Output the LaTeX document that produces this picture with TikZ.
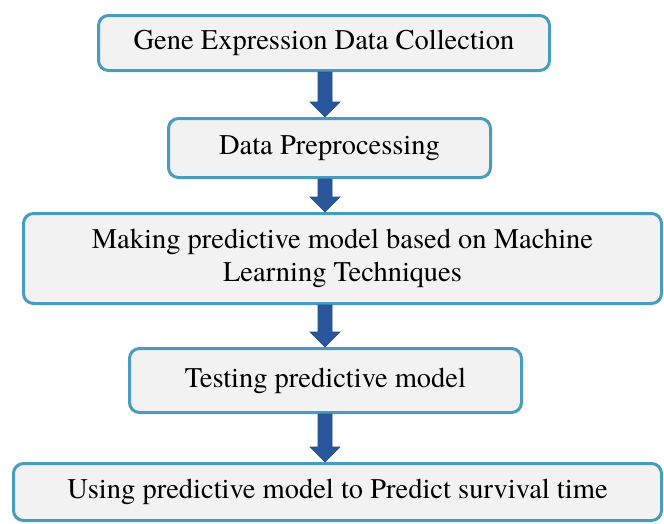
\documentclass[tikz,border=0pt]{standalone}
\usepackage{fontspec}
\setmainfont{TeX Gyre Termes}
\usetikzlibrary{calc}
\definecolor{boxline}{RGB}{72,156,190}
\definecolor{boxfill}{RGB}{242,242,242}
\definecolor{arredge}{RGB}{42,86,156}
\definecolor{arrmid}{RGB}{76,126,202}
\definecolor{arrline}{RGB}{38,76,140}
\begin{document}
\begin{tikzpicture}[x=1pt,y=-1pt,
  stepbox/.style={draw=boxline, fill=boxfill, line width=3pt, rounded corners=10pt,
    inner sep=0pt, font=\fontsize{28.5}{33}\selectfont, align=center},
  bigarrow/.style={left color=arredge, middle color=arrmid, right color=arredge,
    draw=arrline, line width=0.6pt, line join=miter,
    to path={let \p1=(\tikztostart), \p2=(\tikztotarget) in
      (\x1-7pt,\y1) -- (\x1+7pt,\y1) -- (\x1+7pt,\y2+15pt) -- (\x1+15pt,\y2+15pt)
      -- (\x1,\y2) -- (\x1-15pt,\y2+15pt) -- (\x1-7pt,\y2+15pt) -- cycle}}]
\useasboundingbox[fill=white] (0,0) rectangle (664,523);

\node[stepbox, minimum width=451pt, minimum height=55pt] (b1) at (324,43)
  {Gene Expression Data Collection};
\node[stepbox, minimum width=322pt, minimum height=59pt] (b2) at (329.5,148)
  {Data Preprocessing};
\node[stepbox, minimum width=638pt, minimum height=90pt] (b3) at (342.5,258.5)
  {Making predictive model based on Machine\\Learning Techniques};
\node[stepbox, minimum width=392pt, minimum height=64pt] (b4) at (325.5,380.5)
  {Testing predictive model};
\node[stepbox, minimum width=648pt, minimum height=57pt] (b5) at (337.5,492)
  {Using predictive model to Predict survival time};

\coordinate (ax) at (325,0);
\path[bigarrow] (b1.south -| ax) to (b2.north -| ax);
\path[bigarrow] (b2.south -| ax) to (b3.north -| ax);
\path[bigarrow] (b3.south -| ax) to (b4.north -| ax);
\path[bigarrow] (b4.south -| ax) to (b5.north -| ax);
\end{tikzpicture}
\end{document}
